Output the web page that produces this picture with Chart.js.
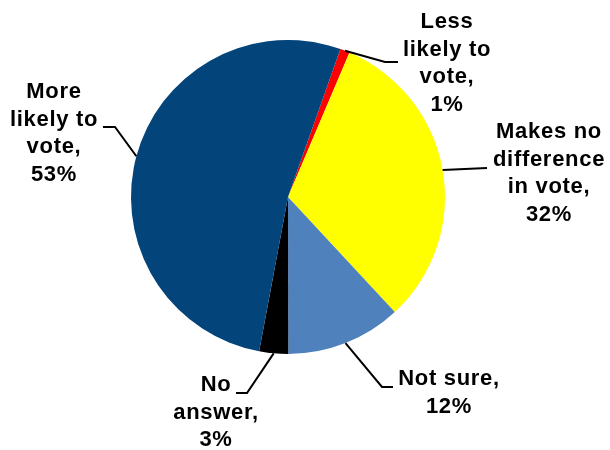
<!DOCTYPE html>
<html>
<head>
<meta charset="utf-8">
<script src="https://cdn.jsdelivr.net/npm/chart.js@4/dist/chart.umd.min.js"></script>
<style>
  html, body { margin: 0; padding: 0; background: #fff; }
  #wrap { width: 610px; height: 450px; position: relative; }
</style>
</head>
<body>
<div id="wrap"><canvas id="grafico"></canvas></div>
<script>
// DATI
const categorie = ['Less likely to vote', 'Makes no difference in vote', 'Not sure', 'No answer', 'More likely to vote'];
const etichette = [
  ['Less', 'likely to', 'vote,'],
  ['Makes no', 'difference', 'in vote,'],
  ['Not sure,'],
  ['No', 'answer,'],
  ['More', 'likely to', 'vote,']
];
const valori = [1, 32, 12, 3, 53];
const colori = ['#FF0000', '#FFFF00', '#4F81BD', '#000000', '#03457A'];

// layout etichette: gomito, fine linea, centro testo, y prima riga
const posEtichette = [
  { gomito: [385, 62], fine: [398, 62], x: 447, y: 22 },
  { gomito: [487, 168], fine: [487, 168], x: 549, y: 132 },
  { gomito: [382, 387], fine: [393, 387], x: 449, y: 379 },
  { gomito: [247, 393], fine: [236, 393], x: 216, y: 385 },
  { gomito: [115, 127], fine: [103, 127], x: 54, y: 92 }
];
const interlinea = 27.7;

// Plugin etichette con linee guida
const etichettePlugin = {
  id: 'etichette',
  afterDraw(chart) {
    const ctx = chart.ctx;
    const archi = chart.getDatasetMeta(0).data;
    ctx.save();
    archi.forEach((arco, i) => {
      const p = arco.getProps(['x', 'y', 'startAngle', 'endAngle', 'outerRadius'], true);
      const mid = (p.startAngle + p.endAngle) / 2;
      const sx = p.x + Math.cos(mid) * p.outerRadius;
      const sy = p.y + Math.sin(mid) * p.outerRadius;
      const pos = posEtichette[i];

      ctx.strokeStyle = '#000';
      ctx.lineWidth = 2;
      ctx.beginPath();
      ctx.moveTo(sx, sy);
      ctx.lineTo(pos.gomito[0], pos.gomito[1]);
      ctx.lineTo(pos.fine[0], pos.fine[1]);
      ctx.stroke();

      const righe = [...etichette[i], valori[i] + '%'];
      ctx.fillStyle = '#000';
      ctx.font = 'bold 22px "Liberation Sans", Arial, sans-serif';
      ctx.letterSpacing = '0.7px';
      ctx.textAlign = 'center';
      ctx.textBaseline = 'middle';
      righe.forEach((r, k) => {
        ctx.fillText(r, pos.x, pos.y + k * interlinea);
      });
    });
    ctx.restore();
  }
};

const canvas = document.getElementById('grafico');
new Chart(canvas, {
  type: 'pie',
  data: {
    labels: categorie,
    datasets: [{
      data: valori,
      backgroundColor: colori,
      borderWidth: 0
    }]
  },
  options: {
    responsive: true,
    maintainAspectRatio: false,
    animation: false,
    rotation: 19.5,
    layout: { padding: { left: 131, right: 165, top: 40, bottom: 96 } },
    plugins: {
      legend: { display: false },
      tooltip: { enabled: false }
    }
  },
  plugins: [etichettePlugin]
});
</script>
</body>
</html>
